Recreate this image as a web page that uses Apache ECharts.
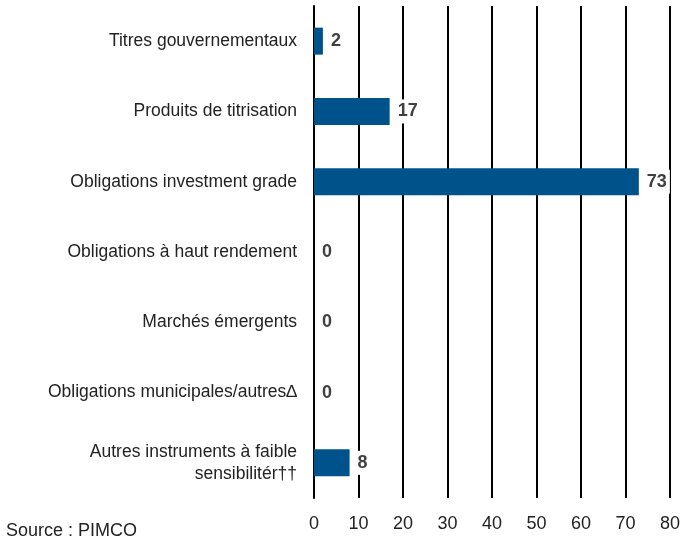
<!DOCTYPE html>
<html lang="fr">
<head>
  <meta charset="utf-8">
  <title>Répartition par secteur</title>
  <script src="https://cdn.jsdelivr.net/npm/echarts@6/dist/echarts.min.js"></script>
  <style>
    html, body { margin: 0; padding: 0; background: #fff; }
    #chart { width: 683px; height: 542px; }
  </style>
</head>
<body>
  <div id="chart"></div>
  <script type="text/javascript">
// secteurs (du haut vers le bas)
var categories = [
  'Titres gouvernementaux',
  'Produits de titrisation',
  'Obligations investment grade',
  'Obligations à haut rendement',
  'Marchés émergents',
  'Obligations municipales/autres\u2206',
  'Autres instruments à faible\nsensibilitér\u2020\u2020'
];
var values = [2, 17, 73, 0, 0, 0, 8];
var xTicks = [0, 10, 20, 30, 40, 50, 60, 70, 80];

var myChart = echarts.init(document.getElementById('chart'));

var option = {
  animation: false,
  textStyle: { fontFamily: 'Liberation Sans, Arial, sans-serif' },
  graphic: [{
    type: 'text',
    left: 6,
    top: 522,
    style: { text: 'Source : PIMCO', fontSize: 18, fill: '#222', fontFamily: 'Liberation Sans, Arial, sans-serif' }
  }],
  grid: { left: 314, right: 13, top: 6, bottom: 44, containLabel: false },
  xAxis: {
    type: 'value',
    min: xTicks[0],
    max: xTicks[xTicks.length - 1],
    interval: 10,
    axisLine: { show: false },
    axisTick: { show: false },
    axisLabel: { fontSize: 18, color: '#222', margin: 17 },
    splitLine: { show: true, lineStyle: { color: '#000', width: 2 } }
  },
  yAxis: {
    type: 'category',
    data: categories,
    inverse: true,
    axisLine: { show: true, lineStyle: { color: '#000', width: 2 } },
    axisTick: { show: false },
    axisLabel: { fontSize: 17.5, color: '#222', margin: 17, lineHeight: 22, align: 'right' }
  },
  series: [{
    type: 'bar',
    data: values,
    barWidth: 27,
    itemStyle: { color: '#00538a' },
    label: {
      show: true,
      position: 'right',
      distance: 5,
      fontSize: 18,
      fontWeight: 'bold',
      color: '#404040',
      backgroundColor: '#fff',
      padding: [3, 3]
    }
  }]
};
myChart.setOption(option);
  </script>
</body>
</html>
